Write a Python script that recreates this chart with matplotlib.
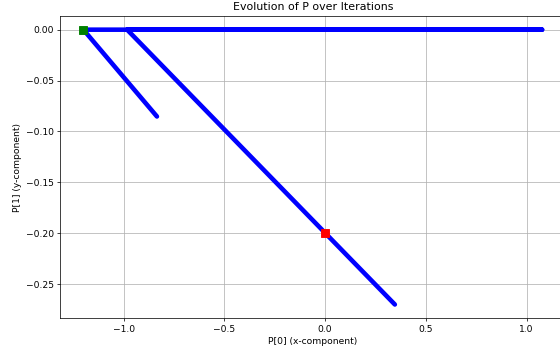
import matplotlib
matplotlib.use('Agg')
import matplotlib.pyplot as plt

# trajectory of P (x, y), drawn as one path
path_x = [-0.835, -1.2, 1.077, -0.983, 0.346]
path_y = [-0.0853, 0.0, 0.0, 0.0, -0.270]

start_pt = (-1.2, 0.0)
end_pt = (0.0, -0.2)

dpi = 66
fig = plt.figure(figsize=(560 / dpi, 354 / dpi), dpi=dpi)
ax = fig.add_axes([0.108, 0.101, 0.901, 0.854])

ax.plot(path_x, path_y, color='blue', linewidth=5, solid_capstyle='round',
        solid_joinstyle='round')
ax.plot(start_pt[0], start_pt[1], 's', color='green', markersize=8)
ax.plot(end_pt[0], end_pt[1], 's', color='red', markersize=8)

ax.set_title('Evolution of P over Iterations')
ax.set_xlabel('P[0] (x-component)')
ax.set_ylabel('P[1] (y-component)')
ax.grid(True)

fig.savefig('out.png', dpi=dpi)
